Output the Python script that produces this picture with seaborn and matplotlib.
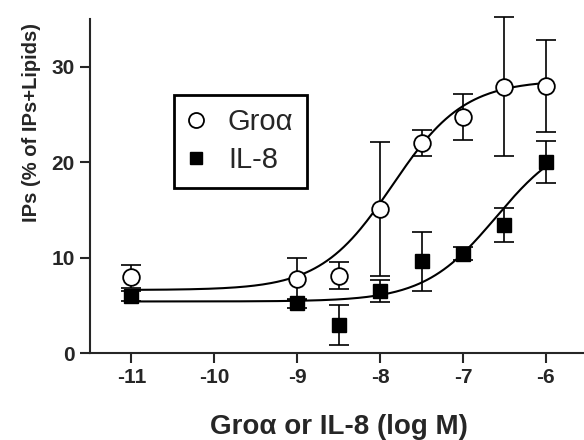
"""Dose-response of IP formation for Groa and IL-8."""

import numpy as np
import pandas as pd
import matplotlib
matplotlib.use('Agg')
import matplotlib.pyplot as plt
import seaborn as sns

# log M concentrations
log_conc = [-11, -9, -8.5, -8, -7.5, -7, -6.5, -6]

# Groa: mean and SEM (% of IPs+Lipids)
gro_mean = [8.0, 7.8, 8.1, 15.1, 22.0, 24.7, 27.9, 28.0]
gro_err = [1.2, 2.2, 1.4, 7.0, 1.4, 2.4, 7.3, 4.8]

# IL-8: mean and SEM
il8_mean = [6.0, 5.2, 2.9, 6.5, 9.6, 10.4, 13.4, 20.0]
il8_err = [0.5, 0.5, 2.1, 1.2, 3.1, 0.7, 1.8, 2.2]

# fitted sigmoid parameters (bottom, top, logEC50)
gro_fit = (6.6, 28.6, -7.85)
il8_fit = (5.4, 23.1, -6.6)

sns.set_style("ticks")
plt.rcParams['font.family'] = ['Liberation Sans', 'DejaVu Sans']
plt.rcParams['axes.unicode_minus'] = False

fig = plt.figure(figsize=(5.84, 4.4), dpi=100)
ax = fig.add_axes([90 / 584, 87 / 440, 494 / 584, 334 / 440])

# fitted curves
xs = np.linspace(-11, -6, 200)
curves = []
for name, (bottom, top, ec50) in [('Groa', gro_fit), ('IL-8', il8_fit)]:
    curves.append(pd.DataFrame({
        'x': xs,
        'y': bottom + (top - bottom) / (1 + 10 ** (ec50 - xs)),
        'series': name,
    }))
curve_df = pd.concat(curves)
sns.lineplot(data=curve_df, x='x', y='y', units='series', estimator=None,
             color='black', linewidth=1.5, ax=ax, zorder=2)

# data points with error bars
for mean, err in [(il8_mean, il8_err), (gro_mean, gro_err)]:
    eb = ax.errorbar(log_conc, mean, yerr=err, fmt='none', ecolor='black',
                     elinewidth=1.2, capsize=7, capthick=1.2, zorder=3)
    for art in eb.lines[1] + eb.lines[2]:
        art.set_clip_on(False)
ax.plot(log_conc, il8_mean, linestyle='none', marker='s', markersize=10,
        markerfacecolor='black', markeredgecolor='black', zorder=4,
        label='IL-8')
ax.plot(log_conc, gro_mean, linestyle='none', marker='o', markersize=12,
        markerfacecolor='white', markeredgecolor='black', markeredgewidth=1.3,
        zorder=5, label='Gro\u03b1')

ax.set_xlim(-11.5, -5.54)
ax.set_ylim(0, 35)
ax.set_xticks([-11, -10, -9, -8, -7, -6])
ax.set_yticks([0, 10, 20, 30])
ax.tick_params(direction='out', length=7, width=1.5, labelsize=15, pad=4)
for lbl in ax.get_xticklabels() + ax.get_yticklabels():
    lbl.set_fontweight('bold')

for side in ['top', 'right']:
    ax.spines[side].set_visible(False)
for side in ['left', 'bottom']:
    ax.spines[side].set_linewidth(1.5)

ax.set_xlabel('Gro\u03b1 or IL-8 (log M)', fontsize=20, fontweight='bold')
ax.set_ylabel('IPs (% of IPs+Lipids)', fontsize=14.5, fontweight='bold')
ax.xaxis.set_label_coords(0.504, -0.222)
ax.yaxis.set_label_coords(-0.119, 0.69)
ax.xaxis.label.set_va('center')
ax.yaxis.label.set_va('center')

handles, labels = ax.get_legend_handles_labels()
leg = ax.legend(handles[::-1], labels[::-1], loc='upper left',
                bbox_to_anchor=(0.170, 0.772), borderaxespad=0,
                fontsize=21, frameon=True, fancybox=False, markerscale=0.9,
                handlelength=0.6, handletextpad=0.8, borderpad=0.45,
                labelspacing=0.35)
leg.get_frame().set_edgecolor('black')
leg.get_frame().set_linewidth(2)
leg.get_frame().set_alpha(1)

plt.savefig('out.png', dpi=100)
plt.close()
